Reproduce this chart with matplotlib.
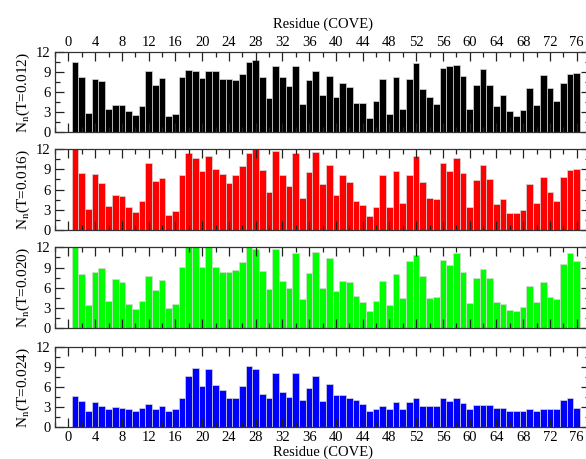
import numpy as np
import matplotlib
matplotlib.use("Agg")
import matplotlib.pyplot as plt
from matplotlib.ticker import MultipleLocator

plt.rcParams['font.family'] = ['Liberation Serif', 'DejaVu Serif']
plt.rcParams['mathtext.fontset'] = 'stix'

residues = np.arange(1, 77)

n_t012 = [10.5, 8.3, 2.9, 7.9, 7.7, 3.5, 4.0, 4.0, 3.1, 2.6,
          3.9, 9.1, 7.1, 8.1, 2.5, 2.7, 8.2, 9.3, 9.1, 8.1,
          9.1, 9.2, 7.9, 8.0, 7.8, 8.7, 10.4, 10.7, 8.3, 5.1,
          9.9, 8.3, 6.9, 9.8, 4.2, 7.8, 9.2, 5.5, 8.4, 5.3,
          7.4, 6.7, 4.4, 4.3, 2.2, 4.7, 7.9, 2.7, 8.2, 3.5,
          8.0, 10.3, 6.5, 5.3, 4.2, 9.5, 9.8, 10.0, 8.4, 3.4,
          7.1, 9.4, 7.1, 3.9, 5.6, 3.1, 2.5, 3.3, 6.6, 4.0,
          8.6, 6.6, 4.7, 7.4, 8.7, 8.9]

n_t016 = [12.5, 8.4, 3.2, 8.3, 7.0, 3.6, 5.2, 5.0, 3.4, 2.7,
          4.3, 9.9, 7.3, 7.7, 2.3, 2.9, 8.2, 11.4, 10.7, 8.7,
          10.9, 9.1, 8.3, 7.0, 8.2, 9.5, 11.4, 12.2, 8.9, 5.6,
          11.7, 8.2, 6.6, 11.4, 4.8, 8.6, 11.6, 6.9, 9.7, 5.2,
          8.1, 7.2, 4.3, 3.7, 2.1, 3.5, 8.1, 3.5, 8.7, 4.0,
          8.1, 10.9, 7.1, 4.7, 4.6, 10.0, 8.8, 10.7, 8.5, 3.5,
          7.4, 9.7, 7.6, 3.9, 4.6, 2.6, 2.5, 3.0, 6.8, 4.0,
          7.9, 5.6, 4.3, 7.9, 8.9, 9.0]

n_t020 = [12.5, 8.1, 3.4, 8.3, 8.9, 4.1, 7.3, 6.9, 3.6, 2.9,
          4.1, 7.8, 5.7, 7.1, 3.0, 3.6, 9.1, 12.5, 12.5, 9.1,
          12.5, 9.1, 8.3, 8.4, 8.7, 9.8, 12.5, 11.7, 8.5, 5.8,
          11.7, 7.0, 6.0, 11.2, 4.4, 8.2, 11.3, 6.0, 10.4, 5.6,
          7.0, 6.9, 4.8, 3.9, 2.6, 4.0, 7.0, 3.5, 8.0, 4.5,
          9.9, 10.9, 7.7, 4.5, 4.6, 10.1, 9.4, 11.1, 8.4, 3.7,
          7.4, 8.8, 7.5, 3.9, 3.6, 2.7, 2.6, 3.2, 6.2, 3.9,
          6.8, 4.6, 4.3, 9.6, 11.2, 9.9]

n_t024 = [4.6, 3.9, 2.4, 3.7, 3.1, 2.6, 3.0, 2.8, 2.6, 2.4,
          2.8, 3.5, 2.7, 3.2, 2.3, 2.7, 4.4, 7.7, 8.9, 6.1,
          8.7, 6.3, 5.5, 4.3, 4.4, 6.1, 9.1, 8.7, 5.0, 4.3,
          8.1, 5.3, 4.5, 8.1, 4.0, 5.9, 7.7, 3.9, 6.4, 4.8,
          4.8, 4.3, 4.1, 3.5, 2.3, 2.6, 3.2, 2.6, 3.7, 2.7,
          3.7, 4.3, 3.2, 3.2, 3.1, 4.4, 3.9, 4.3, 3.6, 2.7,
          3.3, 3.3, 3.3, 2.8, 2.8, 2.3, 2.3, 2.4, 2.7, 2.3,
          2.7, 2.6, 2.7, 4.1, 4.4, 2.8]

series = [n_t012, n_t016, n_t020, n_t024]
labels = ['0.012', '0.016', '0.020', '0.024']
colors = ['#000000', '#ff0000', '#00ff00', '#0000ff']
x_ticks = np.arange(0, 77, 4)
y_ticks = [0, 3, 6, 9, 12]

W, H = 586, 459
fig = plt.figure(figsize=(W / 100, H / 100), dpi=100)

# panel boxes in pixels (top, bottom)
boxes = [(51.7, 132.3), (149.0, 230.3), (247.3, 328.3), (347.3, 426.7)]
left_px, right_px = 55, 590

for i, (vals, lab, col, (top, bot)) in enumerate(zip(series, labels, colors, boxes)):
    ax = fig.add_axes([left_px / W, 1 - bot / H, (right_px - left_px) / W, (bot - top) / H])
    ax.bar(residues, vals, width=1.0, color=col, edgecolor='#d8d8d8', linewidth=0.5)
    ax.set_xlim(-2, 78)
    ax.set_ylim(0, 12)
    ax.set_xticks(x_ticks)
    ax.set_yticks(y_ticks)
    ax.xaxis.set_minor_locator(MultipleLocator(2))
    ax.yaxis.set_minor_locator(MultipleLocator(1.5))
    ax.tick_params(which='both', direction='in', top=True, bottom=True, left=True, right=True,
                   labelsize=10.5, width=0.9, color='#222222')
    ax.tick_params(which='major', length=6.5)
    ax.tick_params(which='minor', length=3.5)
    ax.tick_params(axis='y', which='major', pad=3)
    for s in ax.spines.values():
        s.set_linewidth(0.9)
        s.set_color('#333333')
    ax.set_ylabel(r'N$_{\rm n}$(T=' + lab + ')', fontsize=11, labelpad=3)
    if i == 0:
        ax.tick_params(axis='x', labeltop=True, labelbottom=False, pad=2)
        ax.xaxis.set_label_position('top')
        ax.set_xlabel('Residue (COVE)', fontsize=10.5, labelpad=6)
    elif i == 3:
        ax.tick_params(axis='x', labelbottom=True, pad=3)
        ax.set_xlabel('Residue (COVE)', fontsize=10.5, labelpad=1)
    else:
        ax.tick_params(axis='x', labelbottom=False)

fig.savefig('out.png', dpi=100)
